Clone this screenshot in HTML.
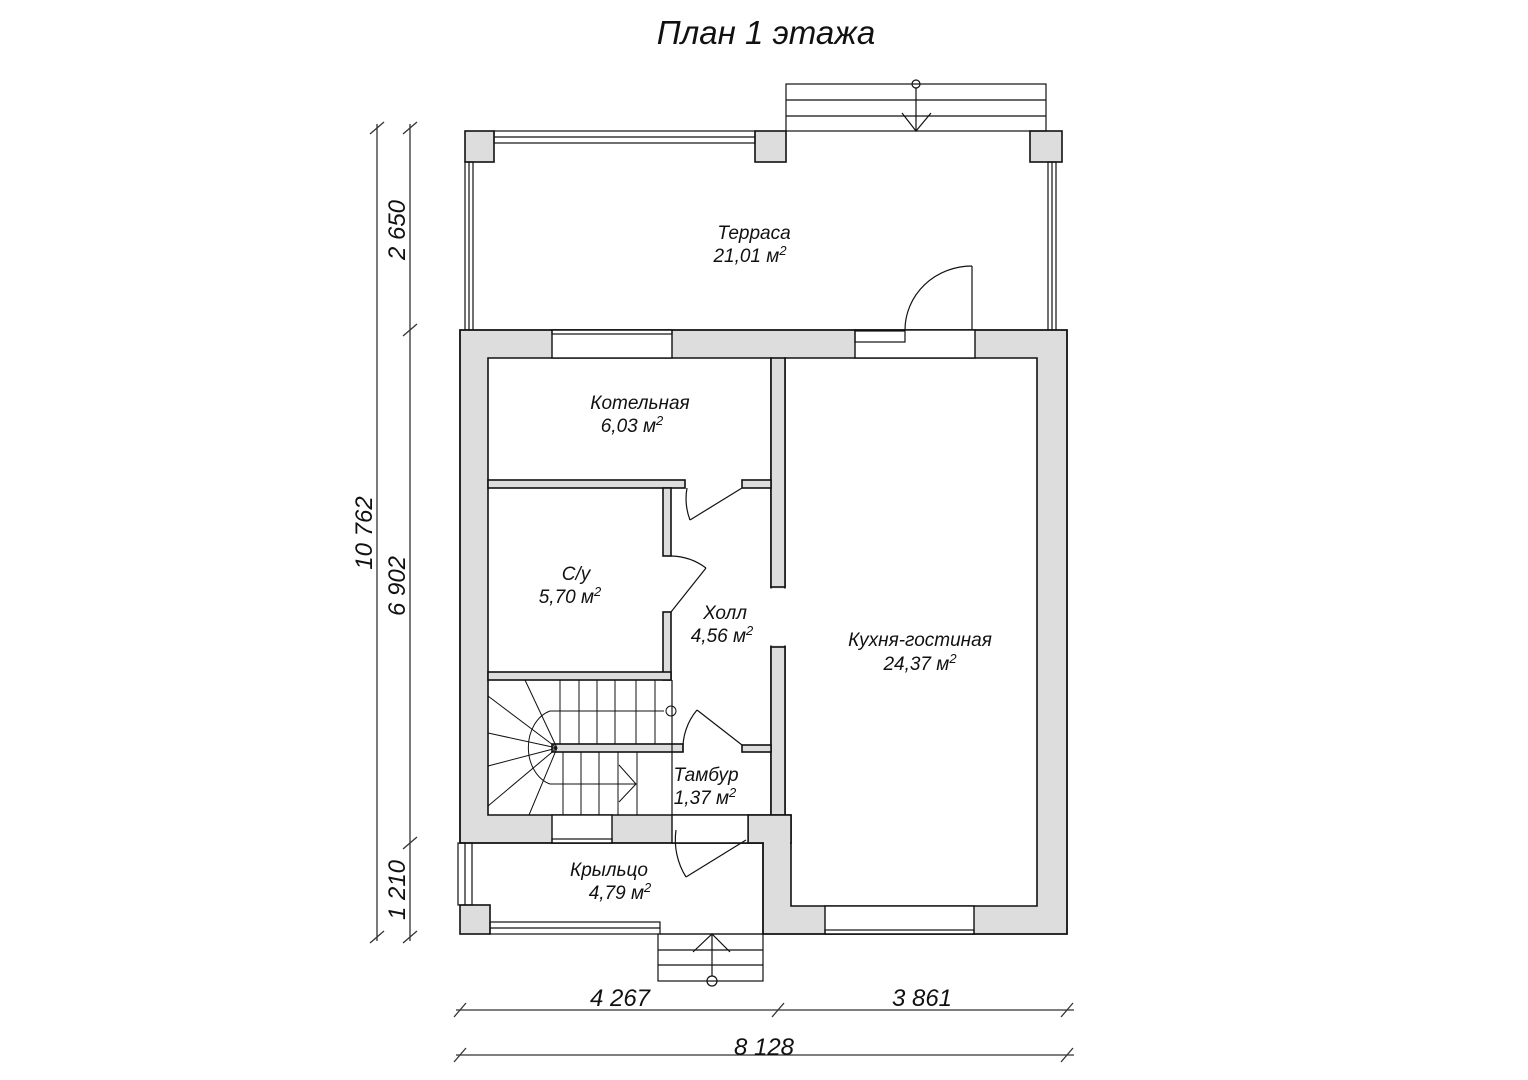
<!DOCTYPE html>
<html><head><meta charset="utf-8"><style>html,body{margin:0;padding:0;background:#fff}svg{display:block}text{font-family:"Liberation Sans",sans-serif;font-style:italic;fill:#111}</style></head>
<body>
<svg width="1528" height="1080" viewBox="0 0 1528 1080" xmlns="http://www.w3.org/2000/svg">
<text x="766" y="44" font-size="33" text-anchor="middle">План 1 этажа</text>
<g stroke="#111" stroke-width="1.6" fill="#ddd">
<rect x="465" y="131" width="29" height="31"/>
<rect x="755" y="131" width="31" height="31"/>
<rect x="1030" y="131" width="32" height="31"/>
</g>
<g stroke="#111" stroke-width="1.2" fill="none">
<rect x="494" y="131" width="261" height="12"/>
<line x1="494" y1="137" x2="755" y2="137"/>
<rect x="465" y="162" width="8" height="168"/>
<line x1="469" y1="162" x2="469" y2="330"/>
<rect x="1048" y="162" width="8" height="168"/>
<line x1="1052" y1="162" x2="1052" y2="330"/>
<rect x="786" y="84" width="260" height="47"/>
<line x1="786" y1="100" x2="1046" y2="100"/>
<line x1="786" y1="116" x2="1046" y2="116"/>
<circle cx="916" cy="84" r="4"/>
<line x1="916" y1="88" x2="916" y2="131"/>
<polyline points="902,113 916,131 931,113"/>
<line x1="972" y1="266" x2="972" y2="330"/>
<path d="M905 330 A67 64 0 0 1 972 266"/>
</g>
<path d="M460 330 H1067 V934 H763 V843 H460 Z" fill="#ddd" stroke="#111" stroke-width="1.8"/>
<g fill="#fff" stroke="#111" stroke-width="1.6">
<path d="M488 358 H771 V815 H488 Z"/>
<path d="M785 358 H1037 V906 H791 V815 H785 Z"/>
</g>
<g stroke="#111" stroke-width="1.6" fill="#ddd">
<rect x="771" y="358" width="14" height="229"/>
<rect x="771" y="647" width="14" height="168"/>
<rect x="488" y="480" width="197" height="8"/>
<rect x="742" y="480" width="29" height="8"/>
<rect x="663" y="488" width="8" height="68"/>
<rect x="663" y="612" width="8" height="68"/>
<rect x="488" y="672" width="183" height="8"/>
<rect x="742" y="745" width="29" height="7"/>
<rect x="552" y="744" width="131" height="8"/>
<rect x="748" y="815" width="43" height="28"/>
<rect x="460" y="905" width="30" height="29"/>
</g>
<rect x="764" y="842" width="26" height="3" fill="#ddd"/>
<rect x="770" y="588.5" width="17" height="57" fill="#fff"/>
<g fill="#fff" stroke="#111" stroke-width="1.4">
<rect x="552" y="330" width="120" height="28"/>
<rect x="855" y="330" width="120" height="28"/>
<rect x="552" y="815" width="60" height="28"/>
<rect x="672" y="815" width="76" height="28"/>
<rect x="825" y="906" width="149" height="28"/>
</g>
<g stroke="#111" stroke-width="1.2" fill="none">
<rect x="552" y="330" width="120" height="4"/>
<rect x="855" y="331" width="50" height="11"/>
<rect x="552" y="839" width="60" height="4"/>
<rect x="825" y="930" width="149" height="4"/>
<rect x="490" y="922" width="170" height="12"/>
<line x1="490" y1="928" x2="660" y2="928"/>
<rect x="458" y="843" width="14" height="62"/>
<line x1="465" y1="843" x2="465" y2="905"/>
<line x1="672" y1="843" x2="763" y2="843"/>
<line x1="660" y1="934" x2="763" y2="934"/>
<rect x="658" y="934" width="105" height="47"/>
<line x1="658" y1="950" x2="763" y2="950"/>
<line x1="658" y1="965" x2="763" y2="965"/>
<circle cx="712" cy="981" r="5"/>
<line x1="712" y1="934" x2="712" y2="976"/>
<polyline points="693,952 712,934 730,952"/>
<line x1="746" y1="840" x2="686" y2="877"/>
<path d="M676 830 A70 70 0 0 0 686 877"/>
<line x1="742" y1="488" x2="690" y2="520"/>
<path d="M687 488 A60 60 0 0 0 690 520"/>
<line x1="671" y1="612" x2="706" y2="568"/>
<path d="M671 556 A60 60 0 0 1 706 568"/>
<line x1="742" y1="745" x2="697" y2="710"/>
<path d="M697 710 A60 60 0 0 0 683 752"/>
<line x1="672" y1="680" x2="672" y2="815"/>
<g stroke-width="1">
<line x1="560" y1="680" x2="560" y2="744"/><line x1="579" y1="680" x2="579" y2="744"/><line x1="597" y1="680" x2="597" y2="744"/><line x1="615" y1="680" x2="615" y2="744"/><line x1="636" y1="680" x2="636" y2="744"/><line x1="655" y1="680" x2="655" y2="744"/>
<line x1="563" y1="752" x2="563" y2="815"/><line x1="581" y1="752" x2="581" y2="815"/><line x1="599" y1="752" x2="599" y2="815"/><line x1="618" y1="752" x2="618" y2="815"/><line x1="637" y1="752" x2="637" y2="815"/>
<line x1="557" y1="748" x2="525" y2="680"/><line x1="557" y1="748" x2="488" y2="696"/><line x1="557" y1="748" x2="488" y2="733"/><line x1="557" y1="748" x2="488" y2="766"/><line x1="557" y1="748" x2="488" y2="806"/><line x1="557" y1="748" x2="529" y2="815"/>
<path d="M664 711 H550 A30 38 0 0 0 550 784 H636"/>
<polyline points="619,765 636,784 619,802"/>
<circle cx="671" cy="711" r="5"/>
</g>
</g>
<g stroke="#333" stroke-width="1.3" fill="none">
<line x1="377" y1="124" x2="377" y2="941"/>
<line x1="410" y1="124" x2="410" y2="941"/>
<line x1="370" y1="134" x2="384" y2="122"/><line x1="370" y1="943" x2="384" y2="931"/>
<line x1="403" y1="134" x2="417" y2="122"/><line x1="403" y1="336" x2="417" y2="324"/><line x1="403" y1="849" x2="417" y2="837"/><line x1="403" y1="943" x2="417" y2="931"/>
<line x1="456" y1="1010" x2="1074" y2="1010"/>
<line x1="456" y1="1055" x2="1074" y2="1055"/>
<line x1="454" y1="1017" x2="466" y2="1003"/><line x1="772" y1="1017" x2="784" y2="1003"/><line x1="1061" y1="1017" x2="1073" y2="1003"/>
<line x1="454" y1="1062" x2="466" y2="1048"/><line x1="1061" y1="1062" x2="1073" y2="1048"/>
</g>
<g font-size="24">
<text x="620" y="1006" text-anchor="middle">4 267</text>
<text x="922" y="1006" text-anchor="middle">3 861</text>
<text x="764" y="1055" text-anchor="middle">8 128</text>
<text transform="translate(372,533) rotate(-90)" text-anchor="middle">10 762</text>
<text transform="translate(405,586) rotate(-90)" text-anchor="middle">6 902</text>
<text transform="translate(405,230) rotate(-90)" text-anchor="middle">2 650</text>
<text transform="translate(405,890) rotate(-90)" text-anchor="middle">1 210</text>
</g>
<g font-size="19" text-anchor="middle">
<text x="754" y="239">Терраса</text><text x="750" y="262">21,01 м<tspan dy="-7" font-size="13">2</tspan></text>
<text x="640" y="409">Котельная</text><text x="632" y="432">6,03 м<tspan dy="-7" font-size="13">2</tspan></text>
<text x="576" y="580">С/у</text><text x="570" y="603">5,70 м<tspan dy="-7" font-size="13">2</tspan></text>
<text x="725" y="619">Холл</text><text x="722" y="642">4,56 м<tspan dy="-7" font-size="13">2</tspan></text>
<text x="920" y="646">Кухня-гостиная</text><text x="920" y="670">24,37 м<tspan dy="-7" font-size="13">2</tspan></text>
<text x="706" y="781">Тамбур</text><text x="705" y="804">1,37 м<tspan dy="-7" font-size="13">2</tspan></text>
<text x="609" y="876">Крыльцо</text><text x="620" y="899">4,79 м<tspan dy="-7" font-size="13">2</tspan></text>
</g>
</svg>
</body></html>
